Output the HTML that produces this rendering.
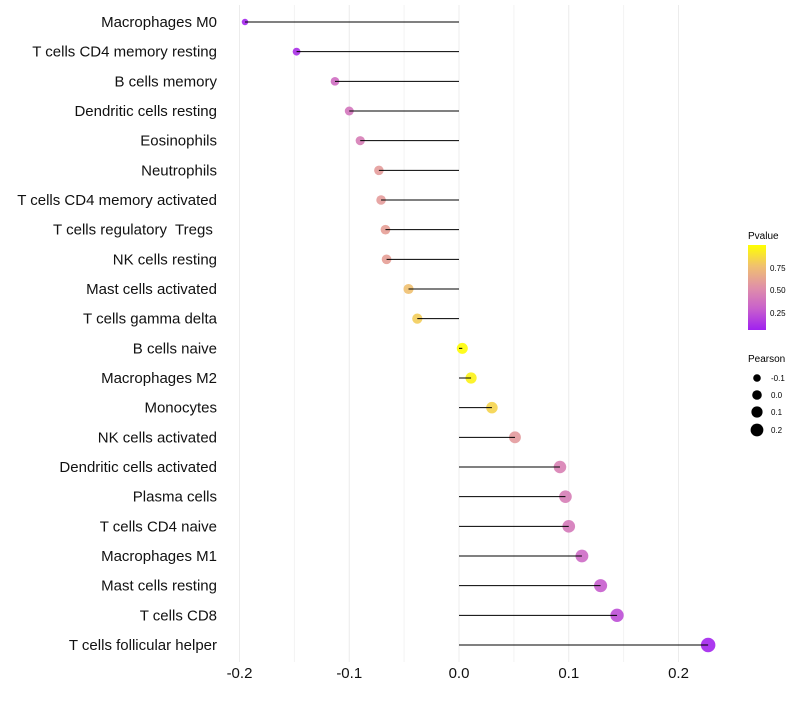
<!DOCTYPE html>
<html><head><meta charset="utf-8"><style>
body{margin:0;background:#fff;font-family:"Liberation Sans",sans-serif}
svg text{font-family:"Liberation Sans",sans-serif}
</style></head><body>
<svg id="chart" width="800" height="700">
<defs><linearGradient id="pg" x1="0" y1="1" x2="0" y2="0">
<stop offset="0" stop-color="#a020f0"/><stop offset="0.25" stop-color="#c860cc"/><stop offset="0.5" stop-color="#e090a8"/><stop offset="0.75" stop-color="#f0c070"/><stop offset="1" stop-color="#ffff00"/></linearGradient></defs>
<g id="grid"></g><g id="dots"></g><g id="stems"></g><g id="labels"></g>
<g>
<text x="748" y="239" font-size="10">Pvalue</text>
<rect x="748" y="245" width="18" height="85" fill="url(#pg)"/>
<text x="770" y="271" font-size="8">0.75</text>
<text x="770" y="293" font-size="8">0.50</text>
<text x="770" y="316" font-size="8">0.25</text>
</g>
<g>
<text x="748" y="362" font-size="10">Pearson</text>
<circle cx="757" cy="378" r="3.8"/><text x="771" y="381" font-size="8">-0.1</text>
<circle cx="757" cy="395" r="4.8"/><text x="771" y="398" font-size="8">0.0</text>
<circle cx="757" cy="412" r="5.6"/><text x="771" y="415" font-size="8">0.1</text>
<circle cx="757" cy="430" r="6.4"/><text x="771" y="433" font-size="8">0.2</text>
</g>
</svg>
<script>
const categories=["Macrophages M0","T cells CD4 memory resting","B cells memory","Dendritic cells resting","Eosinophils","Neutrophils","T cells CD4 memory activated","T cells regulatory  Tregs ","NK cells resting","Mast cells activated","T cells gamma delta","B cells naive","Macrophages M2","Monocytes","NK cells activated","Dendritic cells activated","Plasma cells","T cells CD4 naive","Macrophages M1","Mast cells resting","T cells CD8","T cells follicular helper"];
const pearson=[-0.195,-0.148,-0.113,-0.100,-0.090,-0.073,-0.071,-0.067,-0.066,-0.046,-0.038,0.003,0.011,0.030,0.051,0.092,0.097,0.100,0.112,0.129,0.144,0.227];
const pvalues=[0.02,0.06,0.32,0.36,0.4,0.56,0.56,0.58,0.58,0.75,0.8,0.99,0.95,0.83,0.55,0.42,0.4,0.38,0.3,0.24,0.18,0.02];
const xTicks=[-0.2,-0.1,0.0,0.1,0.2];
const xTickLabels=["-0.2","-0.1","0.0","0.1","0.2"];
const NS="http://www.w3.org/2000/svg";
const x=v=>459+v*1097.5;
const y=i=>22+i*(623/21);
function mk(tag,attrs,parent){const e=document.createElementNS(NS,tag);for(const k in attrs)e.setAttribute(k,attrs[k]);document.getElementById(parent).appendChild(e);return e;}
const stops=[[0,[160,32,240]],[0.25,[200,96,204]],[0.5,[224,144,168]],[0.75,[240,192,112]],[1,[255,255,0]]];
function col(p){for(let i=1;i<stops.length;i++){if(p<=stops[i][0]){const a=stops[i-1],b=stops[i],t=(p-a[0])/(b[0]-a[0]);return 'rgb('+a[1].map((c,j)=>Math.round(c+(b[1][j]-c)*t)).join(',')+')';}}return 'rgb(255,255,0)';}
for(let k=0;k<=8;k++){const v=-0.2+k*0.05;const g=mk('line',{x1:x(v),x2:x(v),y1:5,y2:662,stroke:k%2?'#f3f3f3':'#ececec','stroke-width':1},'grid');

}
xTicks.forEach((t,i)=>{const e=mk('text',{x:x(t),y:678,'font-size':15,'text-anchor':'middle',fill:'#111'},'labels');e.textContent=xTickLabels[i];

});
categories.forEach((c,i)=>{
const r=Math.sqrt(Math.max(4,30+pearson[i]*100));
const d=mk('circle',{cx:x(pearson[i]),cy:y(i),r:r,fill:col(pvalues[i]),'fill-opacity':0.9},'dots');


const l=mk('line',{x1:x(0),x2:x(pearson[i]),y1:y(i),y2:y(i),stroke:'#000','stroke-width':1},'stems');


const t=mk('text',{x:217,y:y(i)+5,'font-size':15,'text-anchor':'end',fill:'#111','xml:space':'preserve',style:'white-space:pre'},'labels');t.textContent=c;


});
</script>
</body></html>
